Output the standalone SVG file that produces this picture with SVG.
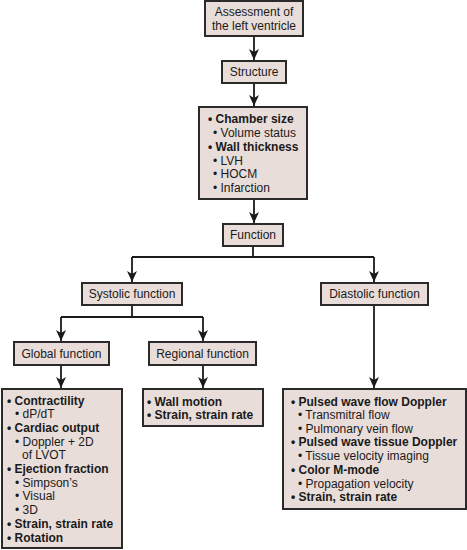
<svg xmlns="http://www.w3.org/2000/svg" width="467" height="550" viewBox="0 0 467 550">
<style>
.box{fill:#e9ddd9;stroke:#2a2a2a;stroke-width:2}
text{font-family:"Liberation Sans",Arial,sans-serif;font-size:12px;fill:#1a1a1a}
.c{text-anchor:middle}
.b{font-weight:bold}
.ln{fill:none;stroke:#1a1a1a;stroke-width:1.8}
</style>
<defs>
<marker id="ah" markerUnits="userSpaceOnUse" markerWidth="10" markerHeight="12" refX="5" refY="11" orient="auto-start-reverse" viewBox="0 0 10 12">
<path d="M0,0 L5,3 L10,0 L5,11 Z" fill="#1a1a1a" transform="rotate(0)"/>
</marker>
<marker id="arr" markerUnits="userSpaceOnUse" markerWidth="12" markerHeight="10" refX="11" refY="5" orient="auto" viewBox="0 0 12 10">
<path d="M0,0 L11,5 L0,10 L3,5 Z" fill="#1a1a1a"/>
</marker>
</defs>
<g id="connectors">
<path class="ln" d="M254,36 V60" marker-end="url(#arr)"/>
<path class="ln" d="M254,83 V106" marker-end="url(#arr)"/>
<path class="ln" d="M254,199 V223" marker-end="url(#arr)"/>
<path class="ln" d="M253,246 V257"/>
<path class="ln" d="M132,257 H374"/>
<path class="ln" d="M132,257 V282" marker-end="url(#arr)"/>
<path class="ln" d="M374,257 V282" marker-end="url(#arr)"/>
<path class="ln" d="M132,305 V317"/>
<path class="ln" d="M61,317 H203"/>
<path class="ln" d="M61,317 V341" marker-end="url(#arr)"/>
<path class="ln" d="M203,317 V341" marker-end="url(#arr)"/>
<path class="ln" d="M61,365 V388" marker-end="url(#arr)"/>
<path class="ln" d="M203,365 V388" marker-end="url(#arr)"/>
<path class="ln" d="M374,305 V388" marker-end="url(#arr)"/>
</g>
<g id="assessment">
<rect class="box" x="205" y="1" width="98" height="35"/>
<text class="c" x="254" y="16">Assessment of</text>
<text class="c" x="254" y="30">the left ventricle</text>
</g>
<g id="structure">
<rect class="box" x="222" y="61" width="64" height="22"/>
<text class="c" x="254" y="76">Structure</text>
</g>
<g id="structure-list">
<rect class="box" x="199" y="107" width="108" height="92"/>
<text class="b" x="208" y="123">• Chamber size</text>
<text x="213" y="137">• Volume status</text>
<text class="b" x="208" y="151">• Wall thickness</text>
<text x="213" y="165">• LVH</text>
<text x="213" y="178">• HOCM</text>
<text x="213" y="192">• Infarction</text>
</g>
<g id="function">
<rect class="box" x="223" y="224" width="60" height="22"/>
<text class="c" x="253" y="239">Function</text>
</g>
<g id="systolic">
<rect class="box" x="82" y="283" width="100" height="22"/>
<text class="c" x="132" y="298">Systolic function</text>
</g>
<g id="diastolic">
<rect class="box" x="321" y="283" width="107" height="22"/>
<text class="c" x="374.5" y="298">Diastolic function</text>
</g>
<g id="global">
<rect class="box" x="14" y="342" width="95" height="23"/>
<text class="c" x="61.5" y="358">Global function</text>
</g>
<g id="regional">
<rect class="box" x="149" y="342" width="107" height="23"/>
<text class="c" x="202.5" y="358">Regional function</text>
</g>
<g id="global-list">
<rect class="box" x="2" y="389" width="120" height="159"/>
<text class="b" x="7" y="405">• Contractility</text>
<text x="15" y="418">• dP/dT</text>
<text class="b" x="7" y="432">• Cardiac output</text>
<text x="15" y="446">• Doppler + 2D</text>
<text x="22" y="459">of LVOT</text>
<text class="b" x="7" y="473">• Ejection fraction</text>
<text x="15" y="487">• Simpson’s</text>
<text x="15" y="500">• Visual</text>
<text x="15" y="514">• 3D</text>
<text class="b" x="7" y="528">• Strain, strain rate</text>
<text class="b" x="7" y="542">• Rotation</text>
</g>
<g id="regional-list">
<rect class="box" x="143" y="389" width="120" height="37"/>
<text class="b" x="147" y="406">• Wall motion</text>
<text class="b" x="147" y="419">• Strain, strain rate</text>
</g>
<g id="diastolic-list">
<rect class="box" x="283" y="389" width="183" height="120"/>
<text class="b" x="291" y="406">• Pulsed wave flow Doppler</text>
<text x="298" y="419">• Transmitral flow</text>
<text x="298" y="433">• Pulmonary vein flow</text>
<text class="b" x="291" y="446">• Pulsed wave tissue Doppler</text>
<text x="298" y="460">• Tissue velocity imaging</text>
<text class="b" x="291" y="474">• Color M-mode</text>
<text x="298" y="488">• Propagation velocity</text>
<text class="b" x="291" y="501">• Strain, strain rate</text>
</g>
</svg>
